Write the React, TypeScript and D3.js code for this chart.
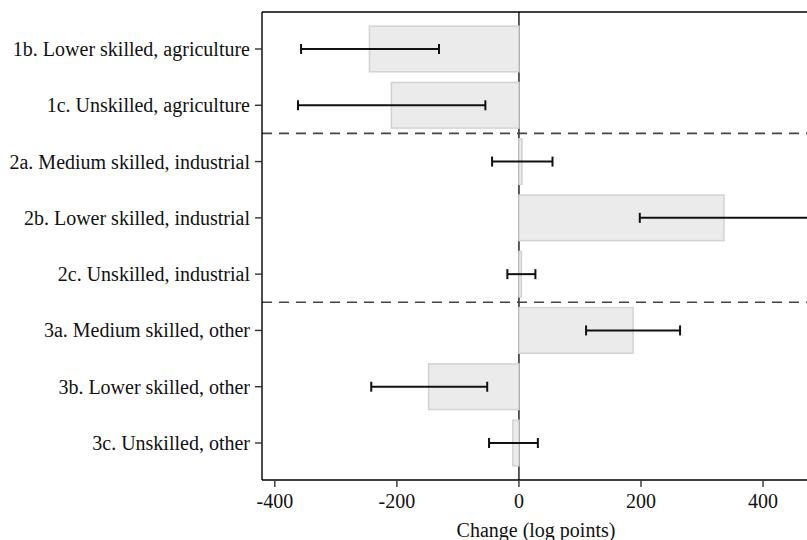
import * as React from "react";
import * as d3 from "d3";

const categories = [
  "1b. Lower skilled, agriculture",
  "1c. Unskilled, agriculture",
  "2a. Medium skilled, industrial",
  "2b. Lower skilled, industrial",
  "2c. Unskilled, industrial",
  "3a. Medium skilled, other",
  "3b. Lower skilled, other",
  "3c. Unskilled, other",
];
const estimates = [-245, -209, 5, 336, 4, 187, -148, -10];
const ciLower = [-357, -362, -44, 198, -19, 110, -242, -49];
const ciUpper = [-131, -55, 55, 474, 27, 264, -52, 31];
// group separators sit between these rows
const groupBreaks = [1, 4];
const xTickValues = [-400, -200, 0, 200, 400];

const W = 807;
const H = 540;
const PLOT = { left: 262, right: 807, top: 12, bottom: 480 };
const FONT = "'Liberation Serif', 'Times New Roman', serif";
const FS = 20;

export default function App() {
  const x = d3.scaleLinear().domain([-421, 472]).range([PLOT.left, PLOT.right]);
  const y = d3
    .scalePoint<string>()
    .domain(categories)
    .range([PLOT.top, PLOT.bottom])
    .padding(0.657);
  const step = y.step();
  const barH = step * 0.81;

  return (
    <svg
      width={W}
      height={H}
      style={{ position: "absolute", left: 0, top: 0, background: "#fff" }}
      fontFamily={FONT}
    >
      <defs>
        <clipPath id="plot-clip">
          <rect x={PLOT.left} y={PLOT.top} width={PLOT.right - PLOT.left} height={PLOT.bottom - PLOT.top} />
        </clipPath>
      </defs>

      {/* zero reference line */}
      <line x1={x(0)} x2={x(0)} y1={PLOT.top} y2={PLOT.bottom} stroke="#333" strokeWidth={1.6} />

      {/* group separators */}
      {groupBreaks.map((i) => {
        const yy = (y(categories[i])! + y(categories[i + 1])!) / 2;
        return (
          <line
            key={`sep-${i}`}
            x1={PLOT.left}
            x2={PLOT.right}
            y1={yy}
            y2={yy}
            stroke="#444"
            strokeWidth={1.6}
            strokeDasharray="10 7"
          />
        );
      })}

      <g clipPath="url(#plot-clip)">
        {/* bars */}
        {categories.map((c, i) => {
          const x0 = x(Math.min(0, estimates[i]));
          const x1 = x(Math.max(0, estimates[i]));
          return (
            <rect
              key={`bar-${c}`}
              x={x0}
              y={y(c)! - barH / 2}
              width={x1 - x0}
              height={barH}
              fill="#ebebeb"
              stroke="#d2d2d2"
              strokeWidth={1.5}
            />
          );
        })}

        {/* confidence intervals */}
        {categories.map((c, i) => {
          const cy = y(c)!;
          return (
            <g key={`ci-${c}`} stroke="#111" strokeWidth={2}>
              <line x1={x(ciLower[i])} x2={x(ciUpper[i])} y1={cy} y2={cy} />
              <line x1={x(ciLower[i])} x2={x(ciLower[i])} y1={cy - 5} y2={cy + 5} />
              <line x1={x(ciUpper[i])} x2={x(ciUpper[i])} y1={cy - 5} y2={cy + 5} />
            </g>
          );
        })}
      </g>

      {/* frame: left, top, bottom */}
      <line x1={PLOT.left} x2={PLOT.left} y1={PLOT.top} y2={PLOT.bottom} stroke="#000" strokeWidth={1.4} />
      <line x1={PLOT.left} x2={PLOT.right} y1={PLOT.top} y2={PLOT.top} stroke="#000" strokeWidth={1.4} />
      <line x1={PLOT.left} x2={PLOT.right} y1={PLOT.bottom} y2={PLOT.bottom} stroke="#000" strokeWidth={1.4} />

      {/* y axis */}
      {categories.map((c) => (
        <g key={`yt-${c}`}>
          <line x1={PLOT.left - 7} x2={PLOT.left} y1={y(c)} y2={y(c)} stroke="#333" strokeWidth={1.4} />
          <text x={PLOT.left - 12} y={y(c)} dy="0.35em" textAnchor="end" fontSize={FS} fill="#111">
            {c}
          </text>
        </g>
      ))}

      {/* x axis */}
      {xTickValues.map((t) => (
        <g key={`xt-${t}`}>
          <line x1={x(t)} x2={x(t)} y1={PLOT.bottom} y2={PLOT.bottom + 7} stroke="#333" strokeWidth={1.4} />
          <text x={x(t)} y={508} textAnchor="middle" fontSize={FS} fill="#111">
            {t}
          </text>
        </g>
      ))}

      <text x={536} y={537} textAnchor="middle" fontSize={FS} fill="#111">
        Change (log points)
      </text>
    </svg>
  );
}
